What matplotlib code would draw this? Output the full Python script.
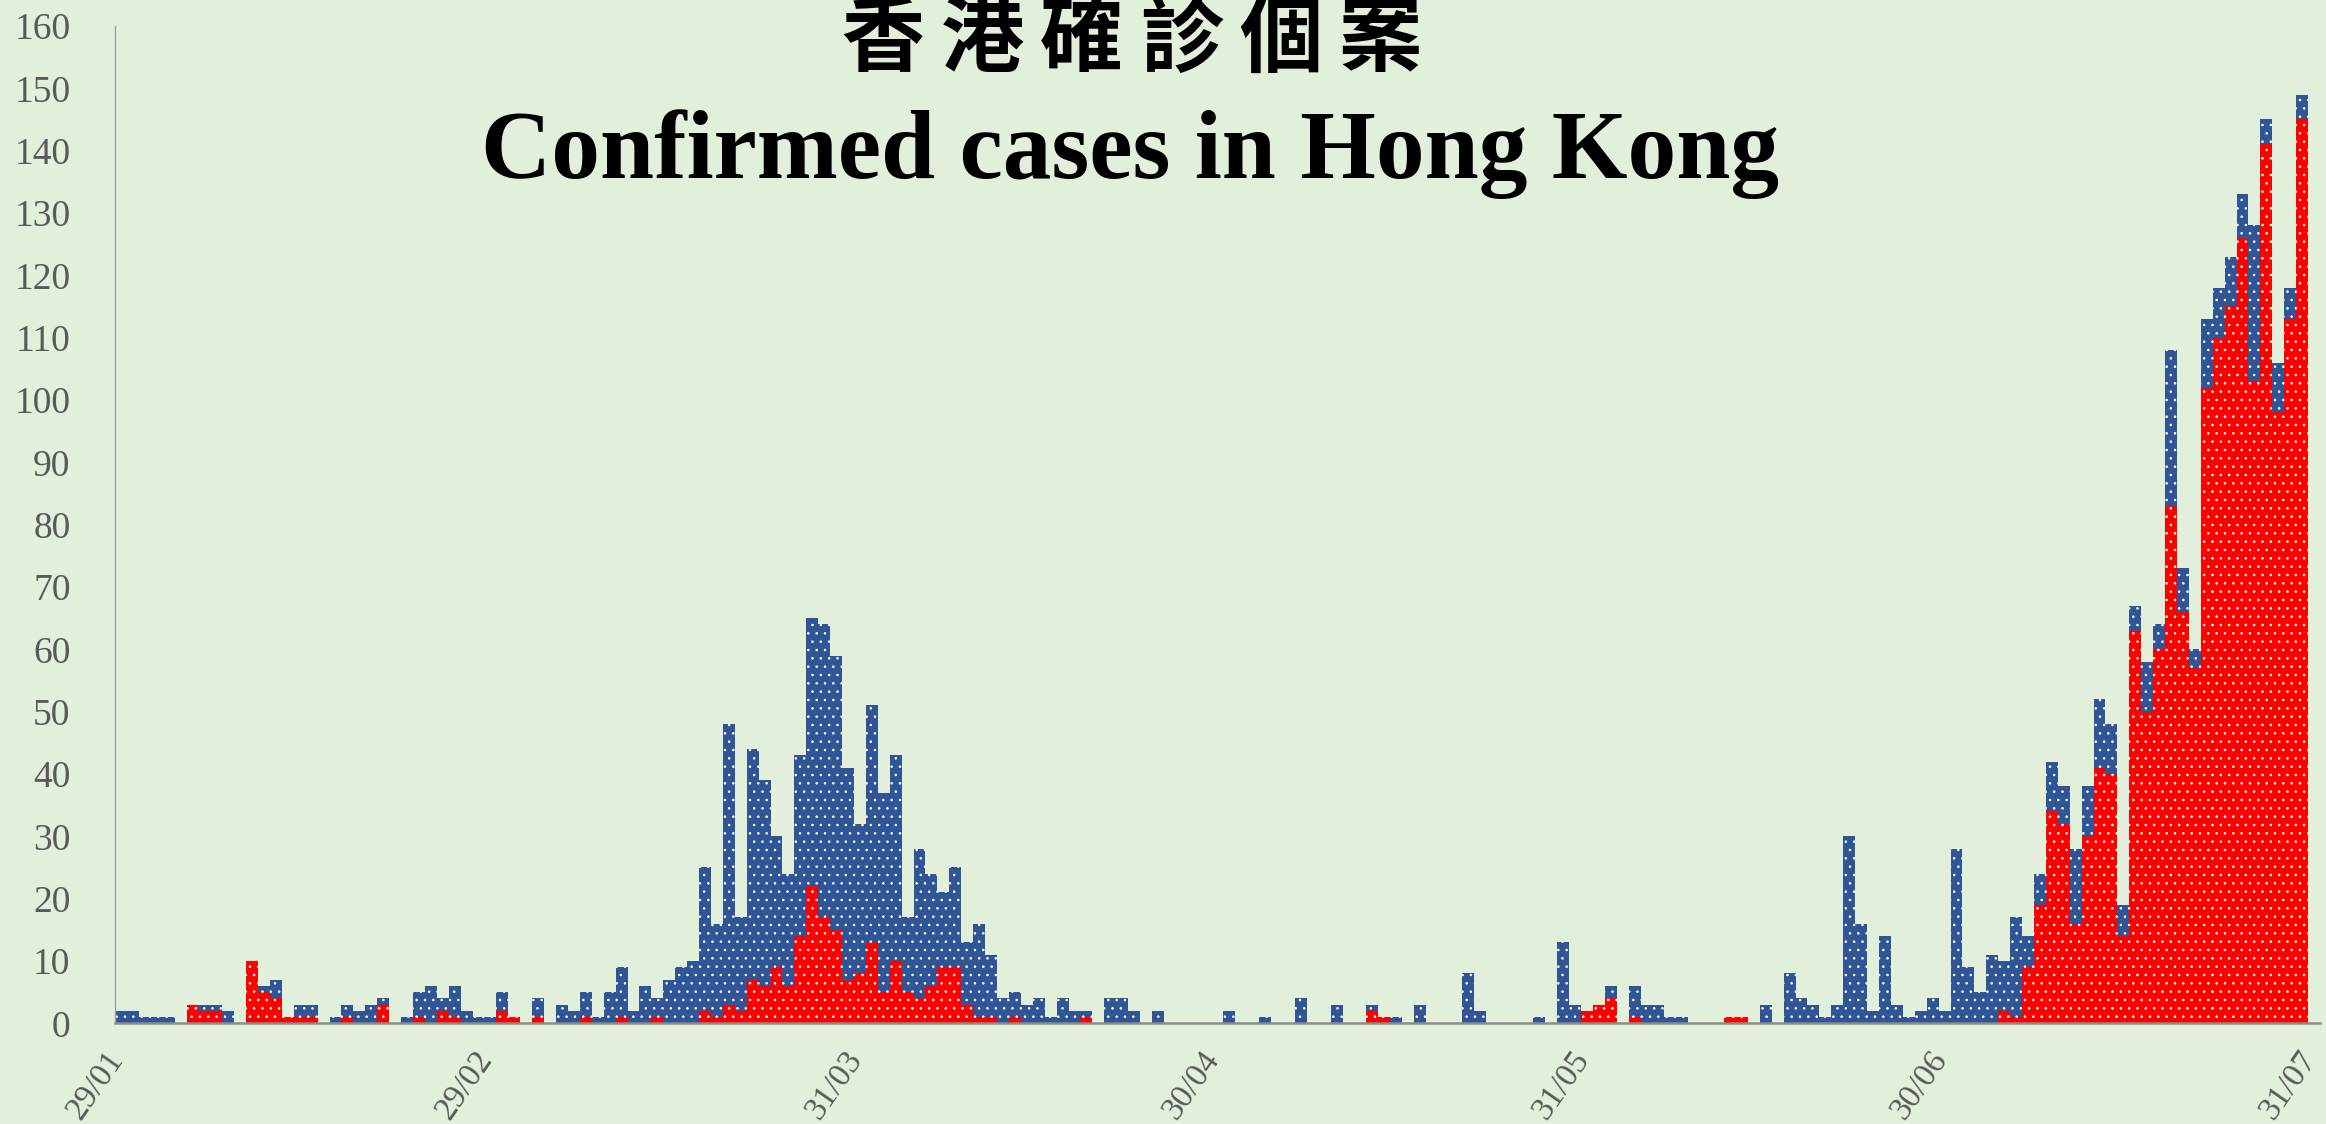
"""香港確診個案 — daily confirmed cases in Hong Kong, 29/01 - 31/07/2020.

Stacked daily bars: local cases (red) at the bottom, imported / other (blue) on top.
"""

import matplotlib

matplotlib.use("Agg")
import matplotlib.pyplot as plt
import matplotlib.transforms as mtransforms
import pandas as pd

# --- data (one list per month) ----------------------------------------------
red_jan = [0, 0, 0]
red_feb = [0, 0, 0, 3, 2, 2, 0, 0, 10, 5, 4, 1, 1, 1, 0, 0, 1, 0, 0, 3,
           0, 0, 1, 0, 2, 1, 0, 0, 0]
red_mar = [2, 1, 0, 1, 0, 0, 0, 1, 0, 0, 1, 0, 0, 1, 0, 0, 0, 2, 1, 3,
           2, 7, 6, 9, 6, 14, 22, 17, 15, 7, 8]
red_apr = [13, 5, 10, 5, 4, 6, 9, 9, 3, 1, 1, 0, 1, 0, 0, 0, 0, 0, 1, 0,
           0, 0, 0, 0, 0, 0, 0, 0, 0, 0]
red_may = [0, 0, 0, 0, 0, 0, 0, 0, 0, 0, 0, 0, 2, 1, 0, 0, 0, 0, 0, 0,
           0, 0, 0, 0, 0, 0, 0, 0, 0, 0, 2]
red_jun = [3, 4, 0, 1, 0, 0, 0, 0, 0, 0, 0, 1, 1, 0, 0, 0, 0, 0, 0, 0,
           0, 0, 0, 0, 0, 0, 0, 0, 0, 0]
red_jul = [0, 0, 0, 0, 2, 1, 9, 19, 34, 32, 16, 30, 41, 40, 14, 63, 50, 60, 83, 66,
           57, 102, 110, 115, 126, 103, 141, 98, 113, 145]

blue_jan = [2, 2, 1]
blue_feb = [1, 1, 0, 0, 1, 1, 2, 0, 0, 1, 3, 0, 2, 2, 0, 1, 2, 2, 3, 1,
            0, 1, 4, 6, 2, 5, 2, 1, 1]
blue_mar = [3, 0, 0, 3, 0, 3, 2, 4, 1, 5, 8, 2, 6, 3, 7, 9, 10, 23, 15, 45,
            15, 37, 33, 21, 18, 29, 43, 47, 44, 34, 24]
blue_apr = [38, 32, 33, 12, 24, 18, 12, 16, 10, 15, 10, 4, 4, 3, 4, 1, 4, 2, 1, 0,
            4, 4, 2, 0, 2, 0, 0, 0, 0, 0]
blue_may = [2, 0, 0, 1, 0, 0, 4, 0, 0, 3, 0, 0, 1, 0, 1, 0, 3, 0, 0, 0,
            8, 2, 0, 0, 0, 0, 1, 0, 13, 3, 0]
blue_jun = [0, 2, 0, 5, 3, 3, 1, 1, 0, 0, 0, 0, 0, 0, 3, 0, 8, 4, 3, 1,
            3, 30, 16, 2, 14, 3, 1, 2, 4, 2]
blue_jul = [28, 9, 5, 11, 8, 16, 5, 5, 8, 6, 12, 8, 11, 8, 5, 4, 8, 4, 25, 7,
            3, 11, 8, 8, 7, 25, 4, 8, 5, 4]

tick_dates = ["2020-01-29", "2020-02-29", "2020-03-31", "2020-04-30",
              "2020-05-31", "2020-06-30", "2020-07-31"]
tick_labels = ["29/01", "29/02", "31/03", "30/04", "31/05", "30/06", "31/07"]

title_zh = "香港確診個案"
title_en = "Confirmed cases in Hong Kong"

# ---------------------------------------------------------------------------
BG = "#E2EFDA"
RED = "#FF0000"
BLUE = "#2F5597"
TICK_GREY = "#595959"

red = red_jan + red_feb + red_mar + red_apr + red_may + red_jun + red_jul
blue = blue_jan + blue_feb + blue_mar + blue_apr + blue_may + blue_jun + blue_jul

# axis runs through 31/07, the last day has no bar
days = pd.date_range("2020-01-29", "2020-07-31", freq="D")
x = list(range(len(red)))
tick_pos = [days.get_loc(pd.Timestamp(d)) for d in tick_dates]

plt.rcParams["hatch.linewidth"] = 0.6

W, H = 2326, 1124
fig = plt.figure(figsize=(W / 100, H / 100), dpi=100, facecolor=BG)
ax = fig.add_axes([115 / W, (H - 1023.3) / H, 2205 / W, 997.3 / H])
ax.set_facecolor(BG)

# white dotted fill like the excel pattern
ax.bar(x, red, width=1.0, color=RED, edgecolor="white", linewidth=0, hatch="..")
ax.bar(x, blue, width=1.0, bottom=red, color=BLUE, edgecolor="white",
       linewidth=0, hatch="..")

ax.set_xlim(-0.5, len(days) - 0.5)
ax.set_ylim(0, 160)
ax.set_yticks(range(0, 161, 10))

serif = ["Liberation Serif", "DejaVu Serif"]
ax.tick_params(axis="y", length=0, pad=32, labelsize=27, labelcolor=TICK_GREY)
for lab in ax.get_yticklabels():
    lab.set_family(serif)

# slanted date labels; anchored at their middle-right so 31/07 stays inside
ax.set_xticks([])
offset = mtransforms.ScaledTranslation(-4 / 100, -31 / 100, fig.dpi_scale_trans)
for pos, label in zip(tick_pos, tick_labels):
    ax.text(pos, 0, label, transform=ax.get_xaxis_transform() + offset,
            rotation=55, rotation_mode="anchor", ha="right", va="center",
            fontsize=24, color=TICK_GREY, family=serif, clip_on=False)

for side in ("top", "right"):
    ax.spines[side].set_visible(False)
ax.spines["left"].set_color("#A0A0A0")
ax.spines["left"].set_linewidth(1.0)
ax.spines["bottom"].set_color("#8C8C8C")
ax.spines["bottom"].set_linewidth(1.8)

# title: chinese line drawn char by char to get the wide spacing
zh_font = ["Noto Sans CJK TC", "DejaVu Sans"]
for k, ch in enumerate(title_zh):
    fig.text((883 + 99.5 * k) / W, 1 - 41 / H, ch, ha="center", va="center",
             fontsize=60, fontweight="bold", family=zh_font, color="black")
fig.text(1130 / W, 1 - 178 / H, title_en, ha="center", va="baseline",
         fontsize=70, fontweight="bold", family=serif, color="black")

fig.savefig("out.png", dpi=100, facecolor=BG)
